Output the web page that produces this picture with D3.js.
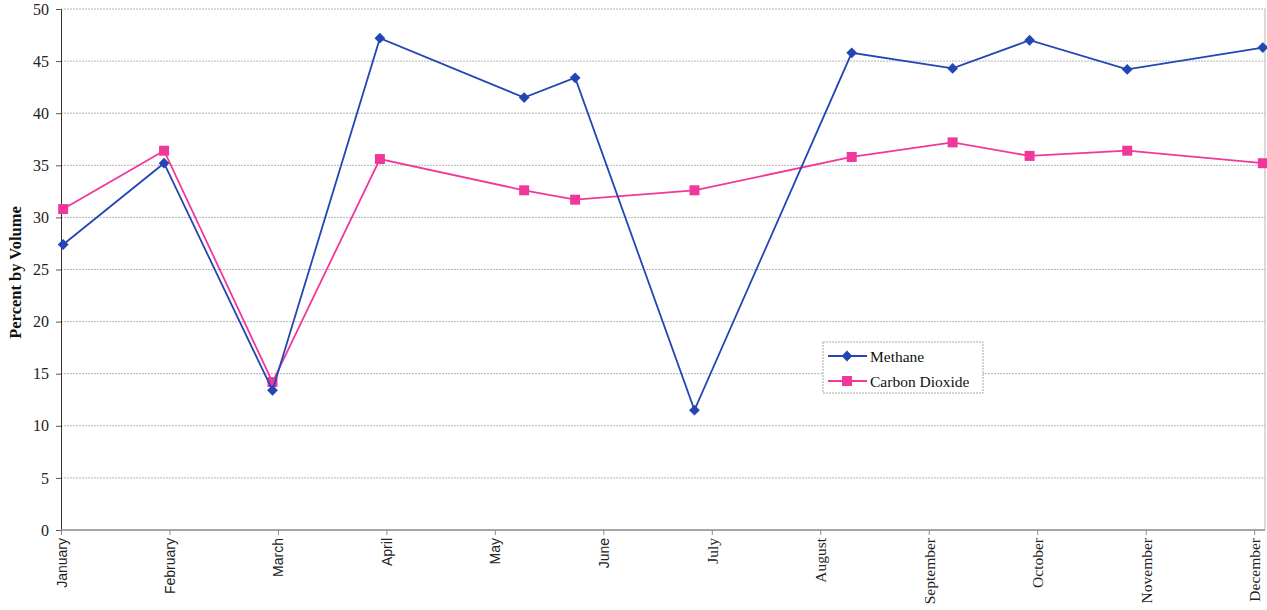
<!DOCTYPE html>
<html>
<head>
<meta charset="utf-8">
<script src="https://cdn.jsdelivr.net/npm/d3@7"></script>
<style>
  html, body { margin: 0; padding: 0; background: #fff; }
  svg { display: block; }
</style>
</head>
<body>
<svg id="chart" width="1267" height="610"></svg>
<script>
// Month names shown along the bottom axis
const months = ["January", "February", "March", "April", "May", "June",
                "July", "August", "September", "October", "November", "December"];

// Sampling times, expressed in months from the start of January
const sampleMonth = [0.02, 0.95, 1.95, 2.94, 4.27, 4.74, 5.84, 7.29, 8.22, 8.93, 9.83, 11.08];

// Gas composition, percent by volume
const methane = [27.4, 35.2, 13.4, 47.2, 41.5, 43.4, 11.5, 45.8, 44.3, 47.0, 44.2, 46.3];
const carbonDioxide = [30.8, 36.4, 14.2, 35.6, 32.6, 31.7, 32.6, 35.8, 37.2, 35.9, 36.4, 35.2];

// Y axis ticks
const yTicks = [0, 5, 10, 15, 20, 25, 30, 35, 40, 45, 50];

const svg = d3.select("#chart");
const plot = { left: 61, top: 9, right: 1265, bottom: 530 };

const x = d3.scaleLinear().domain([0, 11.1]).range([plot.left, plot.right]);
const y = d3.scaleLinear().domain([0, 50]).range([plot.bottom, plot.top]);

const serif = "'Liberation Serif', 'Times New Roman', serif";
const sans = "'Liberation Sans', Arial, sans-serif";

// Horizontal gridlines
svg.append("g")
  .selectAll("line")
  .data(yTicks.filter(d => d > 0))
  .join("line")
  .attr("x1", plot.left).attr("x2", plot.right)
  .attr("y1", d => y(d)).attr("y2", d => y(d))
  .attr("stroke", "#b4b4b4")
  .attr("stroke-width", 1)
  .attr("stroke-dasharray", "2,1");

// Right edge of the plot frame
svg.append("line")
  .attr("x1", plot.right).attr("x2", plot.right)
  .attr("y1", plot.top).attr("y2", plot.bottom)
  .attr("stroke", "#b5b5b5");

// Y axis
const yAxis = d3.axisLeft(y).tickValues(yTicks).tickSize(5).tickPadding(7);
const gy = svg.append("g")
  .attr("transform", `translate(${plot.left},0)`)
  .call(yAxis);
gy.select(".domain").attr("stroke", "#333");
gy.selectAll(".tick line").attr("stroke", "#555");
gy.selectAll(".tick text")
  .attr("font-family", serif)
  .attr("font-size", 16)
  .attr("fill", "#222");

// X axis with month ticks
const xAxis = d3.axisBottom(x)
  .tickValues(d3.range(months.length))
  .tickSize(5)
  .tickFormat(i => months[i]);
const gx = svg.append("g")
  .attr("transform", `translate(0,${plot.bottom})`)
  .call(xAxis);
gx.select(".domain").attr("stroke", "#8a8a8a").attr("stroke-width", 1.3)
  .attr("d", `M${plot.left},0H${plot.right}`);
gx.selectAll(".tick line").attr("stroke", "#8a8a8a");
gx.selectAll(".tick text")
  .attr("transform", "rotate(-90)")
  .attr("text-anchor", "end")
  .attr("dominant-baseline", "central")
  .attr("x", -8)
  .attr("y", 0)
  .attr("dy", null)
  .attr("font-family", (d, i) => i < 6 ? sans : serif)
  .attr("font-size", (d, i) => i < 6 ? 14 : 15.5)
  .attr("fill", "#222");

// Y axis title
svg.append("text")
  .attr("transform", `translate(21,${(plot.top + plot.bottom) / 2 + 3}) rotate(-90)`)
  .attr("text-anchor", "middle")
  .attr("font-family", serif)
  .attr("font-weight", "bold")
  .attr("font-size", 16.5)
  .attr("fill", "#111")
  .text("Percent by Volume");

// Series lines and markers (diamond = square turned 45 degrees)
const series = [
  { name: "Methane", values: methane, color: "#2445b4", marker: d3.symbolSquare, size: 58, rotate: 45 },
  { name: "Carbon Dioxide", values: carbonDioxide, color: "#f0389b", marker: d3.symbolSquare, size: 100, rotate: 0 }
];

const line = d3.line()
  .x(d => x(d.t))
  .y(d => y(d.v));

series.slice().reverse().forEach(s => {
  const pts = s.values.map((v, i) => ({ t: sampleMonth[i], v }));
  const g = svg.append("g");
  g.append("path")
    .datum(pts)
    .attr("d", line)
    .attr("fill", "none")
    .attr("stroke", s.color)
    .attr("stroke-width", 1.8);
  g.selectAll("path.pt")
    .data(pts)
    .join("path")
    .attr("class", "pt")
    .attr("transform", d => `translate(${x(d.t)},${y(d.v)}) rotate(${s.rotate})`)
    .attr("d", d3.symbol().type(s.marker).size(s.size))
    .attr("fill", s.color);
});

// Legend
const legend = svg.append("g").attr("transform", "translate(823,342)");
legend.append("rect")
  .attr("width", 160).attr("height", 51)
  .attr("fill", "#fff")
  .attr("stroke", "#a8a8a8")
  .attr("stroke-dasharray", "2,1");
series.forEach((s, i) => {
  const row = legend.append("g").attr("transform", `translate(0,${14 + i * 25})`);
  row.append("line")
    .attr("x1", 5).attr("x2", 44)
    .attr("stroke", s.color).attr("stroke-width", 1.8);
  row.append("path")
    .attr("transform", `translate(24,0) rotate(${s.rotate})`)
    .attr("d", d3.symbol().type(s.marker).size(s.size))
    .attr("fill", s.color);
  row.append("text")
    .attr("x", 47).attr("y", 0)
    .attr("dominant-baseline", "central")
    .attr("font-family", serif)
    .attr("font-size", 15.5)
    .attr("fill", "#111")
    .text(s.name);
});
</script>
</body>
</html>
